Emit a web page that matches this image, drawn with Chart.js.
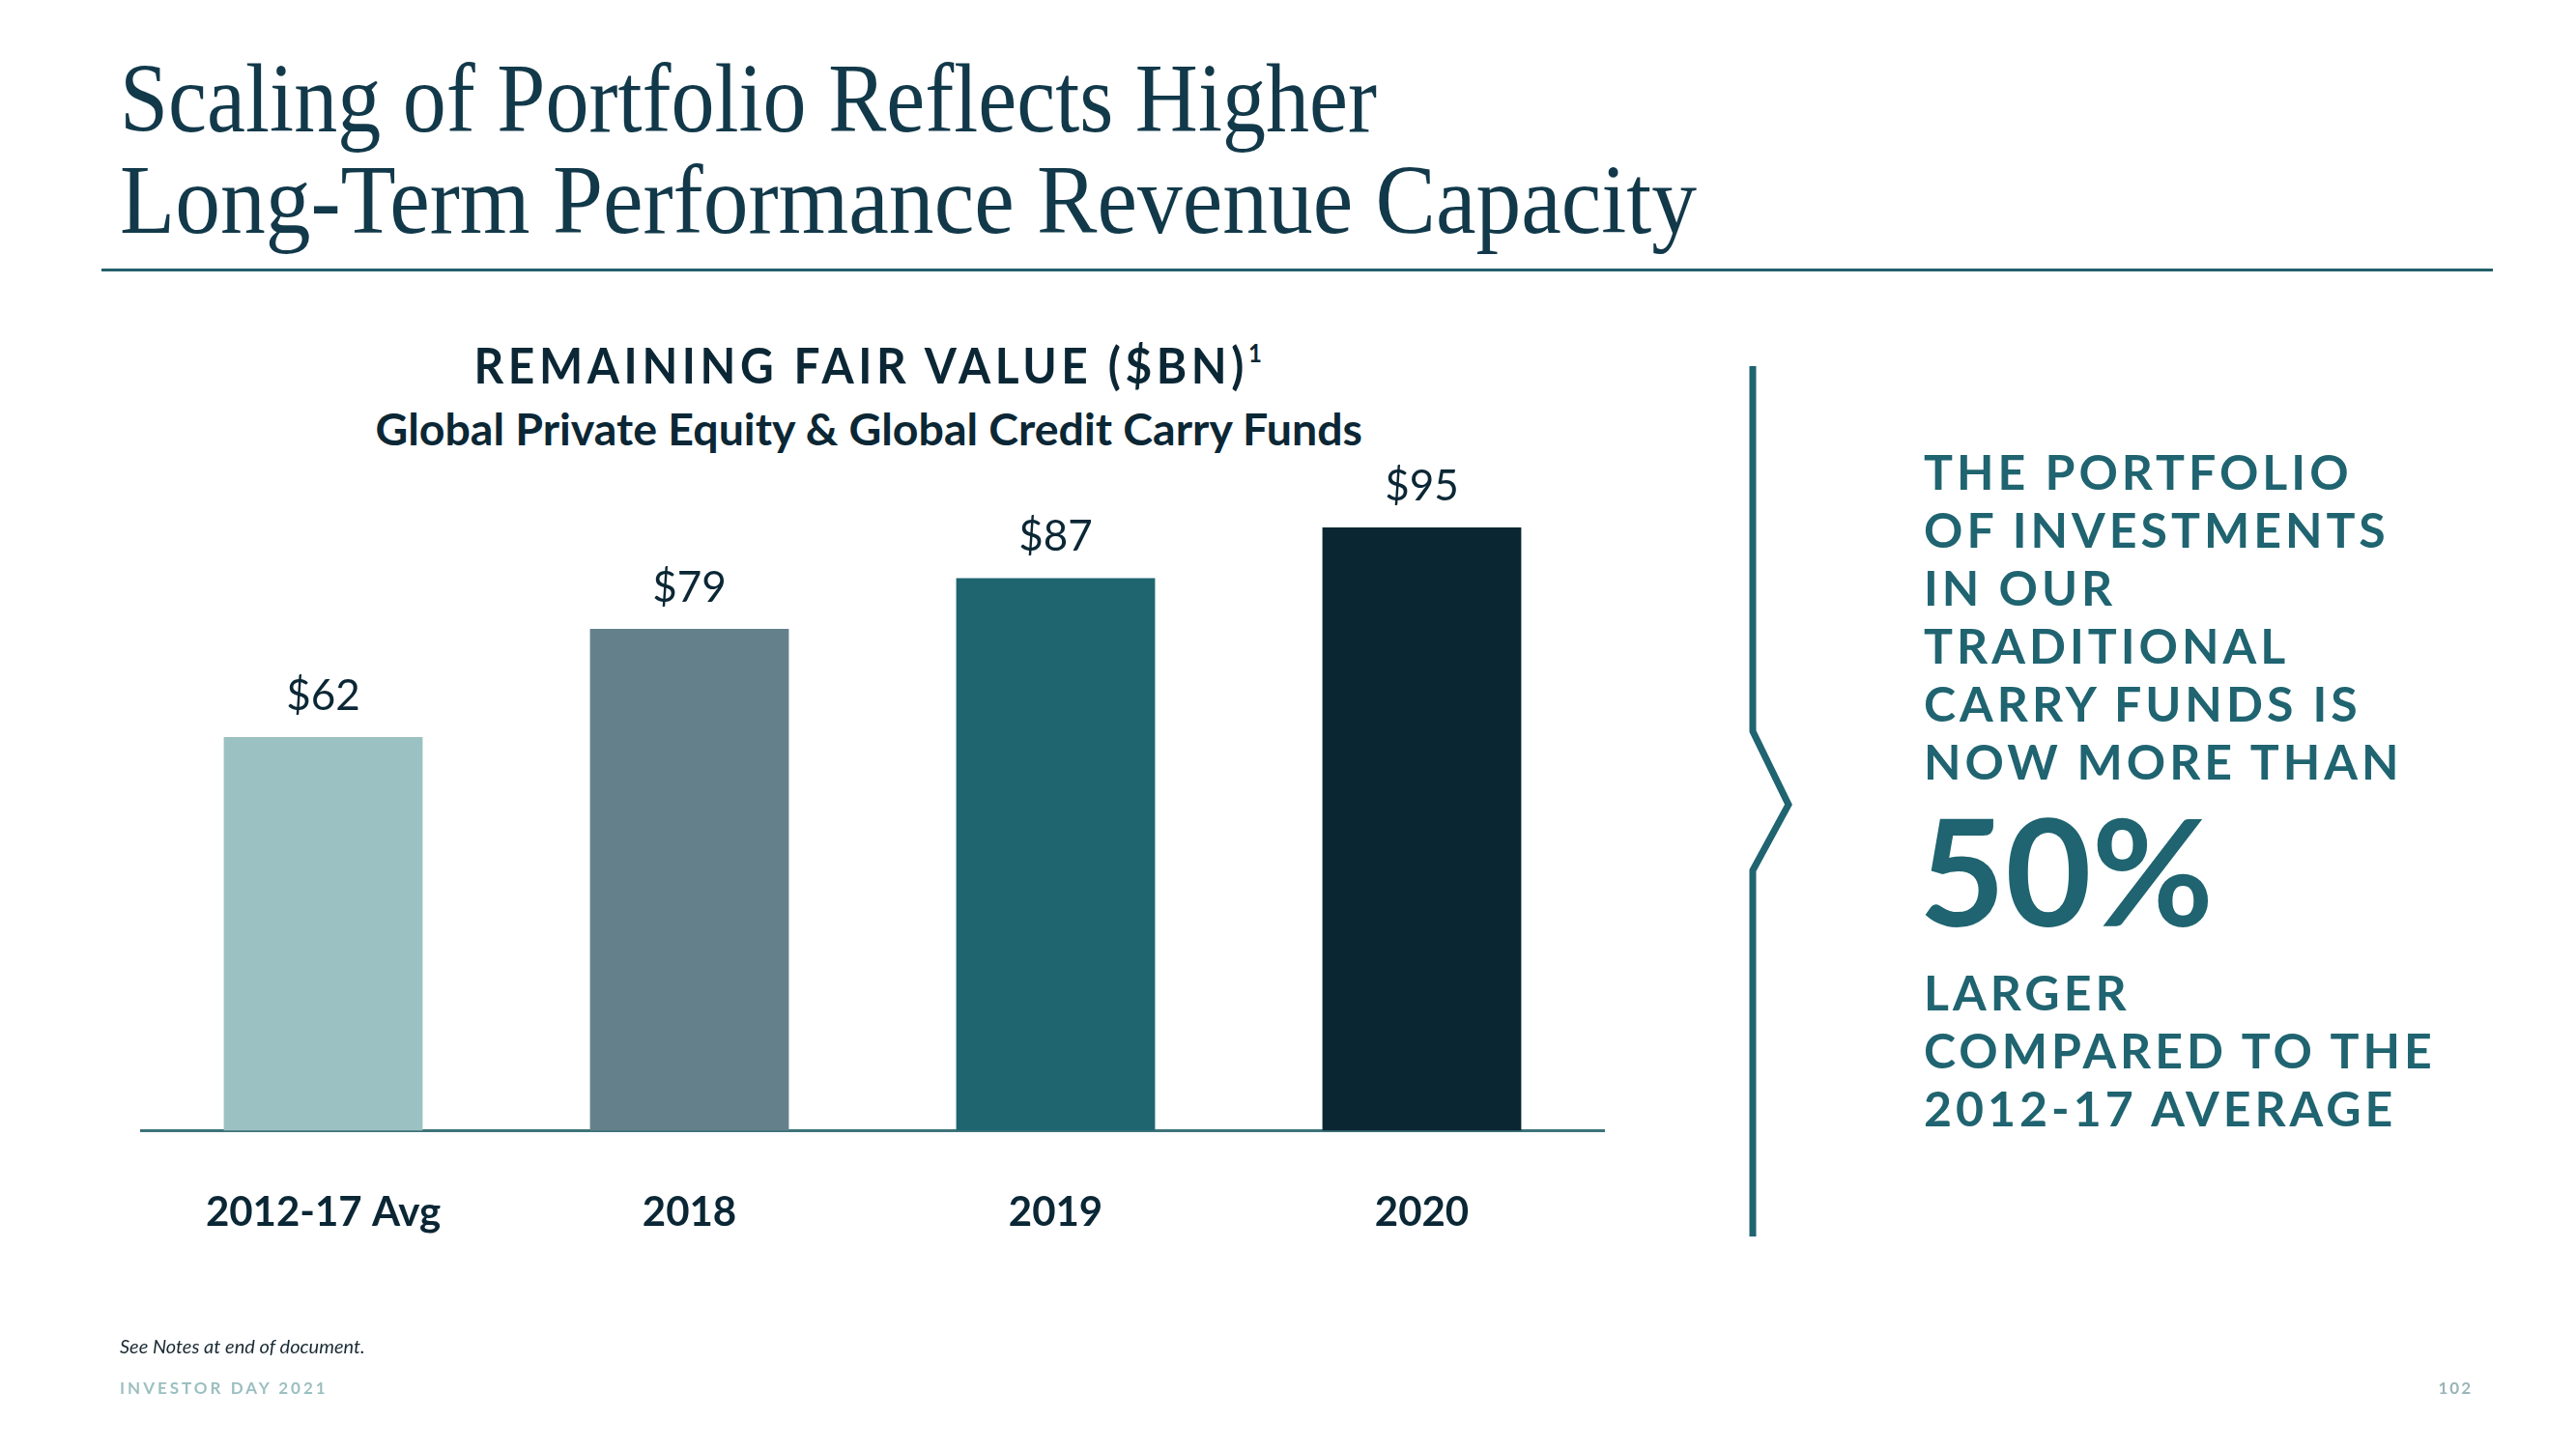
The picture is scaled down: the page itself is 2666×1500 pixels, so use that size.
<!DOCTYPE html>
<html>
<head>
<meta charset="utf-8">
<script src="https://cdn.jsdelivr.net/npm/chart.js@4.4.1/dist/chart.umd.min.js"></script>
<style>
  body { margin: 0; width: 2666px; height: 1500px; background: #fff; position: relative; overflow: hidden; font-family: Lato, "Noto Sans", sans-serif; }
  .abs { position: absolute; white-space: nowrap; }
  .title { left: 124px; font-family: "Liberation Serif", serif; font-size: 102px; line-height: 102px; color: #12394a; transform-origin: left top; }
  .rule { left: 105px; top: 278px; width: 2475px; height: 3px; background: #24606c; }
  .ctitle { font-weight: 700; font-size: 52px; line-height: 62px; letter-spacing: 5px; color: #0b2735; transform-origin: center top; }
  .ctitle sup { font-size: 26px; letter-spacing: 0; vertical-align: 22px; line-height: 0; }
  .csub { font-weight: 700; font-size: 46px; line-height: 55px; color: #0b2735; transform-origin: center top; }
  .side { left: 1991px; font-weight: 700; font-size: 50px; line-height: 60px; letter-spacing: 4px; color: #1f6470; }
  .big { left: 1986px; top: 823px; font-weight: 700; font-size: 154px; line-height: 154px; color: #1f6470; }
  .note { left: 124px; top: 1381px; font-style: italic; font-size: 20px; line-height: 24px; color: #1a2a33; }
  .foot { left: 124px; top: 1427px; font-weight: 700; font-size: 17px; line-height: 20px; letter-spacing: 3px; color: #9cbfc0; }
  .page { left: 2520px; width: 39px; text-align: right; top: 1427px; font-weight: 700; font-size: 17px; line-height: 20px; letter-spacing: 2px; color: #9ab5b8; }
  #wrap { position: absolute; left: 145px; top: 440px; width: 1516px; height: 941px; }
</style>
</head>
<body>
<div class="abs title" id="t1" data-w="1301" style="top:51px">Scaling of Portfolio Reflects Higher</div>
<div class="abs title" id="t2" data-w="1632" style="top:156px">Long-Term Performance Revenue Capacity</div>
<div class="abs rule"></div>

<div class="abs ctitle" id="ct" data-w="815" data-cx="898" style="top:346px">REMAINING FAIR VALUE ($BN)<sup>1</sup></div>
<div class="abs csub" id="cs" data-w="1022" data-cx="899" style="top:416px">Global Private Equity &amp; Global Credit Carry Funds</div>

<div id="wrap"><canvas id="chart" width="1516" height="941"></canvas></div>

<svg class="abs" style="left:0;top:0" width="2666" height="1500">
  <polyline points="1814,379 1814,757 1851,833 1814,901 1814,1280" fill="none" stroke="#1f6470" stroke-width="7" stroke-linejoin="miter"/>
</svg>

<div class="abs side" style="top:458px">THE PORTFOLIO<br>OF INVESTMENTS<br>IN OUR<br>TRADITIONAL<br>CARRY FUNDS IS<br>NOW MORE THAN</div>
<div class="abs big">50%</div>
<div class="abs side" style="top:997px">LARGER<br>COMPARED TO THE<br>2012-17 AVERAGE</div>

<div class="abs note">See Notes at end of document.</div>
<div class="abs foot">INVESTOR DAY 2021</div>
<div class="abs page">102</div>

<script>
const categories = ['2012-17 Avg', '2018', '2019', '2020'];
const values = [62, 79, 87, 95];
const valueLabels = ['$62', '$79', '$87', '$95'];
const barColors = ['#9cc1c2', '#64818b', '#1f6570', '#0a2633'];

// squeeze headline text to the widths of the original
document.querySelectorAll('[data-w]').forEach(el => {
    const s = el.dataset.w / el.offsetWidth;
    if (el.dataset.cx) {
        el.style.left = (el.dataset.cx - el.offsetWidth / 2) + 'px';
    }
    el.style.transform = 'scaleX(' + s + ')';
});

const valueLabelPlugin = {
    id: 'valueLabels',
    afterDatasetsDraw(chart) {
        const ctx = chart.ctx;
        const meta = chart.getDatasetMeta(0);
        ctx.save();
        ctx.font = '400 44px Lato';
        ctx.fillStyle = '#0b2735';
        ctx.textAlign = 'center';
        ctx.textBaseline = 'alphabetic';
        meta.data.forEach((bar, i) => {
            ctx.fillText(valueLabels[i], bar.x, bar.y - 28);
        });
        ctx.restore();
    }
};

new Chart(document.getElementById('chart').getContext('2d'), {
    type: 'bar',
    data: {
        labels: categories,
        datasets: [{
            data: values,
            backgroundColor: barColors,
            borderWidth: 0,
            categoryPercentage: 1,
            barPercentage: 0.543
        }]
    },
    options: {
        responsive: false,
        animation: false,
        layout: { padding: { top: 73, bottom: 40, left: 0, right: 0 } },
        plugins: { legend: { display: false }, tooltip: { enabled: false } },
        scales: {
            x: {
                grid: { display: false, drawTicks: false },
                border: { display: true, color: '#3d7378', width: 3 },
                ticks: { padding: 60, color: '#0b2735', font: { family: 'Lato', size: 42, weight: '700' } }
            },
            y: { display: false, min: 0, max: 100 }
        }
    },
    plugins: [valueLabelPlugin]
});
</script>
</body>
</html>
